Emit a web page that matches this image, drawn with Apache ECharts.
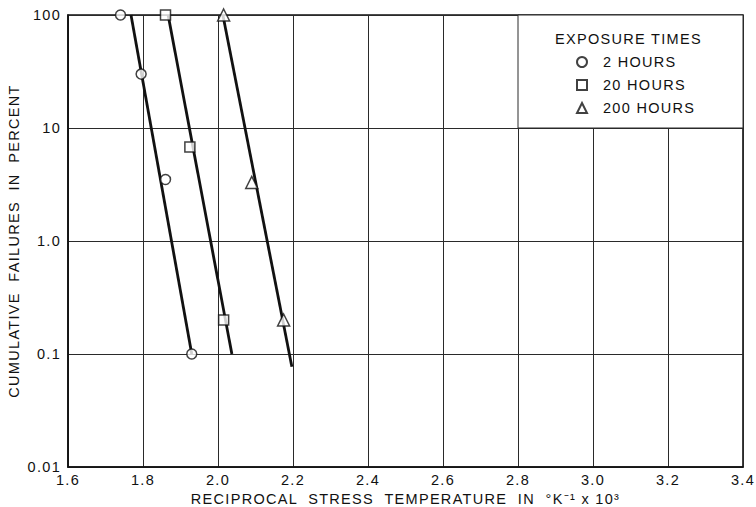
<!DOCTYPE html>
<html>
<head>
<meta charset="utf-8">
<script src="https://cdn.jsdelivr.net/npm/echarts@6/dist/echarts.min.js"></script>
<style>
  html, body { margin: 0; padding: 0; background: #fff; }
  /* wide, evenly spaced lettering for every label */
  #chart { width: 756px; height: 507px; letter-spacing: 1.3px; }
</style>
</head>
<body>
<div id="chart"></div>
<script>
// Reciprocal stress temperature (1/K x 10^3) vs cumulative failures (%)
const xTicks = [1.6, 1.8, 2.0, 2.2, 2.4, 2.6, 2.8, 3.0, 3.2, 3.4];
const yTicks = [0.01, 0.1, 1, 10, 100];
const yTickLabels = ['0.01', '0.1', '1.0', '10', '100'];

// Measured points for each exposure time
const hours2X = [1.74, 1.795, 1.86, 1.93];
const hours2Y = [100, 30, 3.5, 0.1];
const hours20X = [1.86, 1.925, 2.015];
const hours20Y = [100, 6.8, 0.2];
const hours200X = [2.015, 2.09, 2.175];
const hours200Y = [100, 3.3, 0.2];

// Straight-line fits drawn through each group
const fit2 = [[1.768, 100], [1.93, 0.1]];
const fit20 = [[1.867, 100], [2.037, 0.1]];
const fit200 = [[2.013, 100], [2.197, 0.077]];

const seriesNames = ['2 HOURS', '20 HOURS', '200 HOURS'];
const legendTitle = 'EXPOSURE TIMES';

const pair = (xs, ys) => xs.map((x, i) => [x, ys[i]]);
const ink = '#111';
const font = 'Liberation Sans';
const fs = 14.5;

const chart = echarts.init(document.getElementById('chart'), null, { renderer: 'svg' });

function scatter(name, symbol, data) {
  return {
    name: name, type: 'scatter', symbol: symbol, symbolSize: symbol === 'triangle' ? 12 : 10,
    data: data, clip: false, z: 5,
    itemStyle: { color: '#fff', borderColor: ink, borderWidth: 1.5 }
  };
}
function fitLine(data) {
  return {
    type: 'line', data: data, showSymbol: false, symbol: 'none', z: 4, silent: true,
    lineStyle: { color: ink, width: 2.8 }
  };
}

chart.setOption({
  animation: false,
  backgroundColor: '#fff',
  textStyle: { fontFamily: font, color: ink },
  grid: {
    left: 68, right: 13, top: 15, bottom: 40,
    outerBoundsMode: 'none', containLabel: false,
    show: true, borderColor: ink, borderWidth: 1.6
  },
  title: {
    text: legendTitle, left: 555, top: 30, padding: 0,
    textStyle: { fontFamily: font, fontSize: fs, fontWeight: 'normal', color: ink, lineHeight: 17 }
  },
  legend: {
    orient: 'vertical', left: 576, top: 54, padding: 0, itemGap: 7, itemWidth: 10, itemHeight: 10,
    data: seriesNames,
    textStyle: { fontFamily: font, fontSize: fs, color: ink, lineHeight: 16, padding: [0, 0, 0, 11] }
  },
  xAxis: {
    type: 'value', min: 1.6, max: 3.4, interval: 0.2,
    name: 'RECIPROCAL  STRESS  TEMPERATURE  IN  °K⁻¹ x 10³',
    nameLocation: 'middle', nameGap: 22,
    nameTextStyle: { fontFamily: font, fontSize: fs, color: ink },
    axisLine: { show: true, lineStyle: { color: ink, width: 1.6 } },
    axisTick: { show: false },
    axisLabel: { margin: 5, fontFamily: font, fontSize: fs, color: ink,
      formatter: v => { const t = xTicks.find(k => Math.abs(k - v) < 1e-6); return t === undefined ? '' : t.toFixed(1); } },
    splitLine: { show: true, lineStyle: { color: '#2a2a2a', width: 1 } }
  },
  yAxis: {
    type: 'log', logBase: 10, min: 0.01, max: 100,
    name: 'CUMULATIVE  FAILURES  IN  PERCENT',
    nameLocation: 'middle', nameGap: 44,
    nameTextStyle: { fontFamily: font, fontSize: fs, color: ink },
    axisLine: { show: true, lineStyle: { color: ink, width: 1.6 } },
    axisTick: { show: false },
    minorTick: { show: false },
    axisLabel: { margin: 7, fontFamily: font, fontSize: fs, color: ink,
      formatter: v => { const i = yTicks.findIndex(k => Math.abs(Math.log10(k) - Math.log10(v)) < 1e-6); return i < 0 ? '' : yTickLabels[i]; } },
    splitLine: { show: true, lineStyle: { color: '#2a2a2a', width: 1 } }
  },
  series: [
    fitLine(fit2), fitLine(fit20), fitLine(fit200),
    scatter(seriesNames[0], 'circle', pair(hours2X, hours2Y)),
    scatter(seriesNames[1], 'rect', pair(hours20X, hours20Y)),
    scatter(seriesNames[2], 'triangle', pair(hours200X, hours200Y)),
    {
      // blank panel holding the key, bounded by the 2.8 and 10% grid lines
      type: 'scatter', data: [], silent: true, z: 1,
      markArea: {
        silent: true,
        itemStyle: { color: '#fff', borderColor: '#2a2a2a', borderWidth: 1 },
        data: [[{ coord: [2.8, 10] }, { coord: [3.4, 100] }]]
      }
    }
  ]
});
</script>
</body>
</html>
